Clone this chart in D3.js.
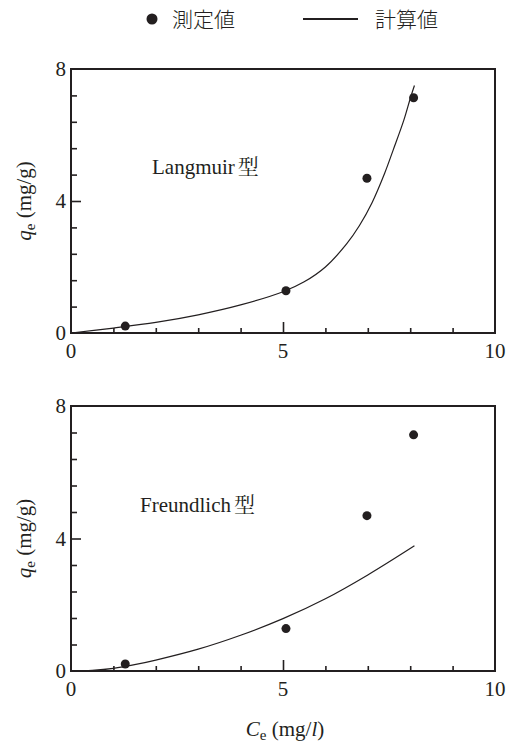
<!DOCTYPE html>
<html>
<head>
<meta charset="utf-8">
<script src="https://cdn.jsdelivr.net/npm/d3@7"></script>
<style>
  body { margin: 0; background: #fff; }
</style>
</head>
<body>
<div id="chart"></div>
<script>
const width = 507;
const height = 747;
const serif = "Liberation Serif";
const cjkSans = "Noto Sans CJK JP";
const cjkSerif = "Noto Serif CJK JP";
const ink = "#231f20";

// measured points (same in both panels)
const measuredCe = [1.28, 5.07, 6.98, 8.08];
const measuredQe = [0.21, 1.28, 4.69, 7.13];

// calculated curves
const langmuirCe = [0, 1, 2, 3, 4, 5, 5.5, 6, 6.5, 6.8, 7.1, 7.4, 7.6, 7.85, 8.0, 8.1];
const langmuirQe = [0, 0.15, 0.32, 0.55, 0.85, 1.25, 1.55, 2.0, 2.7, 3.25, 3.95, 4.85, 5.55, 6.45, 7.1, 7.5];
const freundCe = [0, 0.5, 1, 1.5, 2, 3, 4, 5, 6, 7, 8.1];
const freundQe = [0, 0.02, 0.08, 0.19, 0.33, 0.66, 1.08, 1.58, 2.18, 2.9, 3.78];

const xMajor = [0, 5, 10];
const yMajor = [0, 4, 8];

const panels = [
  { label: "Langmuir", top: 69, bottom: 333, ce: langmuirCe, qe: langmuirQe, lx: 152, ly: 174 },
  { label: "Freundlich", top: 406, bottom: 671, ce: freundCe, qe: freundQe, lx: 140, ly: 512 }
];

const svg = d3.select("#chart").append("svg")
  .attr("width", width)
  .attr("height", height);

const x = d3.scaleLinear().domain([0, 10]).range([71, 495]);

// legend
const legend = svg.append("g");
legend.append("circle").attr("cx", 152).attr("cy", 19).attr("r", 5.5).attr("fill", ink);
legend.append("text").attr("x", 172).attr("y", 27).attr("font-family", cjkSans)
  .attr("font-weight", 300).attr("fill", ink).attr("font-size", 21).text("測定値");
legend.append("line").attr("x1", 303).attr("x2", 358).attr("y1", 19).attr("y2", 19)
  .attr("stroke", ink).attr("stroke-width", 2);
legend.append("text").attr("x", 375).attr("y", 27).attr("font-family", cjkSans)
  .attr("font-weight", 300).attr("fill", ink).attr("font-size", 21).text("計算値");

panels.forEach((p) => {
  const y = d3.scaleLinear().domain([0, 8]).range([p.bottom, p.top]);
  const g = svg.append("g");

  // frame
  g.append("rect")
    .attr("x", x(0)).attr("y", y(8))
    .attr("width", x(10) - x(0)).attr("height", y(0) - y(8))
    .attr("fill", "none").attr("stroke", ink).attr("stroke-width", 2);

  // x axis: inward ticks, minor every 1
  const xAxis = d3.axisBottom(x).tickValues(d3.range(1, 10)).tickSize(-5).tickFormat("");
  g.append("g").attr("transform", `translate(0,${y(0)})`).call(xAxis)
    .call((s) => s.select(".domain").remove())
    .call((s) => s.selectAll(".tick line").attr("stroke", ink).attr("stroke-width", 1.6)
      .filter((d) => d === 5).attr("y2", -11));

  g.selectAll(".xlab").data(xMajor).enter().append("text")
    .attr("x", (d) => x(d)).attr("y", y(0) + 25)
    .attr("font-family", serif).attr("fill", ink)
    .attr("text-anchor", "middle").attr("font-size", 21).text((d) => d);

  // y axis: minor every 0.8
  const yAxis = d3.axisLeft(y).tickValues([0.8, 1.6, 2.4, 3.2, 4, 4.8, 5.6, 6.4, 7.2]).tickSize(-6).tickFormat("");
  g.append("g").attr("transform", `translate(${x(0)},0)`).call(yAxis)
    .call((s) => s.select(".domain").remove())
    .call((s) => s.selectAll(".tick line").attr("stroke", ink).attr("stroke-width", 1.6)
      .filter((d) => d === 4).attr("x2", 10));

  g.selectAll(".ylab").data(yMajor).enter().append("text")
    .attr("x", x(0) - 5).attr("y", (d) => y(d) + 7)
    .attr("font-family", serif).attr("fill", ink)
    .attr("text-anchor", "end").attr("font-size", 21).text((d) => d);

  // y title
  const yt = g.append("text")
    .attr("transform", `translate(31,${(p.top + p.bottom) / 2}) rotate(-90)`)
    .attr("font-family", serif).attr("fill", ink)
    .attr("text-anchor", "middle").attr("font-size", 21);
  yt.append("tspan").attr("font-style", "italic").text("q");
  yt.append("tspan").attr("dy", 4).attr("font-size", 15).text("e");
  yt.append("tspan").attr("dy", -4).text(" (mg/g)");

  // calculated curve
  const line = d3.line()
    .x((d, i) => x(p.ce[i]))
    .y((d) => y(d))
    .curve(d3.curveCatmullRom);
  g.append("path").datum(p.qe)
    .attr("d", line)
    .attr("fill", "none").attr("stroke", ink).attr("stroke-width", 1.2);

  // measured points
  g.selectAll(".pt").data(measuredQe).enter().append("circle")
    .attr("cx", (d, i) => x(measuredCe[i]))
    .attr("cy", (d) => y(d))
    .attr("r", 4.5).attr("fill", ink);

  // panel label
  const lab = g.append("text").attr("x", p.lx).attr("y", p.ly)
    .attr("font-family", serif).attr("fill", ink).attr("font-size", 21);
  lab.append("tspan").text(p.label);
  lab.append("tspan").attr("font-family", cjkSerif).attr("dx", 3).attr("font-size", 21).text("型");
});

// x title
const xt = svg.append("text").attr("x", 285).attr("y", 736)
  .attr("font-family", serif).attr("fill", ink)
  .attr("text-anchor", "middle").attr("font-size", 21);
xt.append("tspan").attr("font-style", "italic").text("C");
xt.append("tspan").attr("dy", 4).attr("font-size", 15).text("e");
xt.append("tspan").attr("dy", -4).text(" (mg/");
xt.append("tspan").attr("font-style", "italic").text("l");
xt.append("tspan").text(")");
</script>
</body>
</html>
